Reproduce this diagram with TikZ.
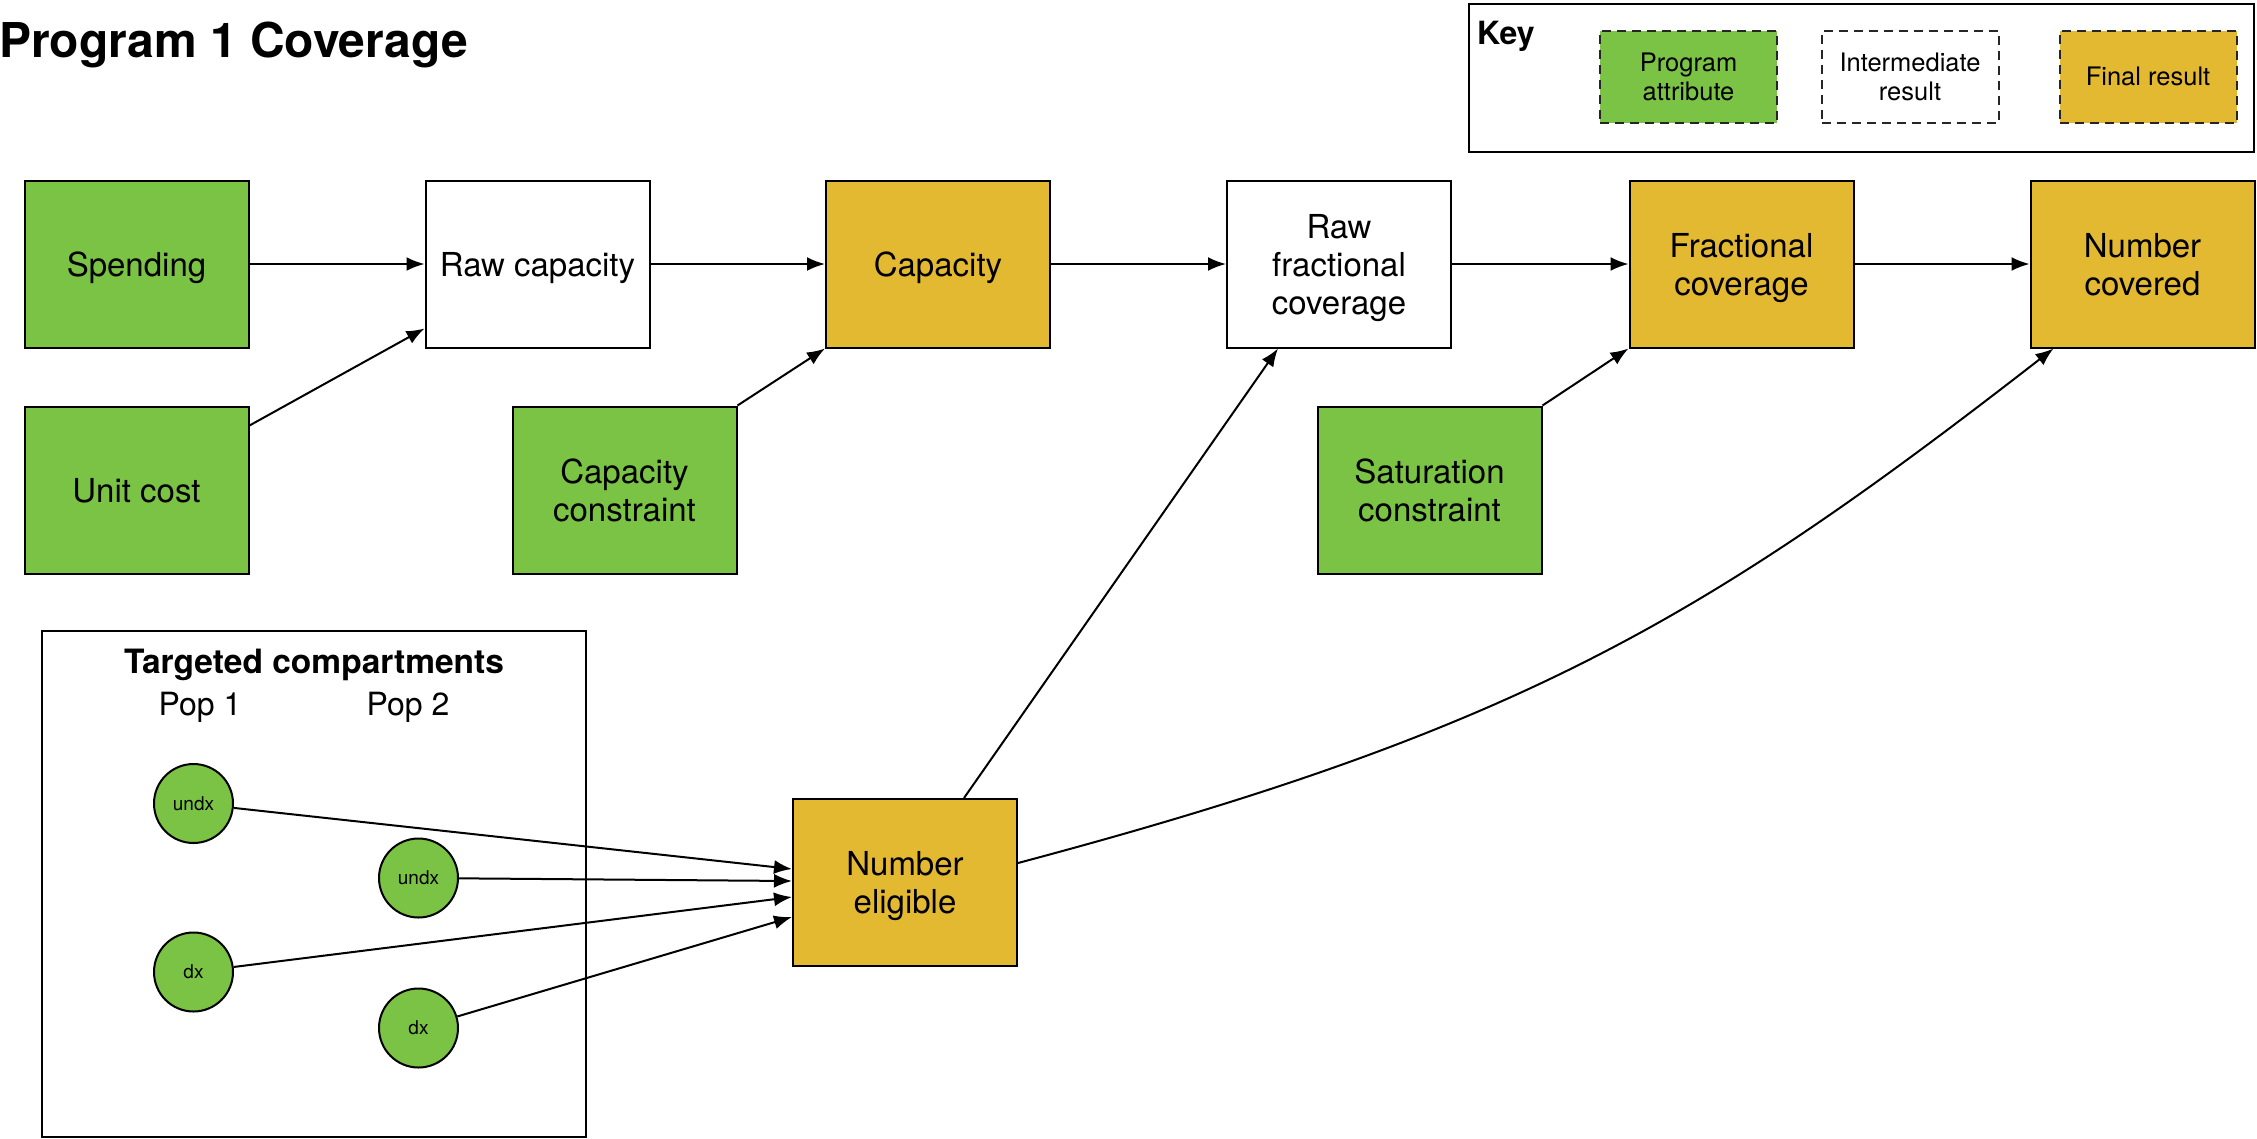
\documentclass[tikz,border=0pt]{standalone}
\usepackage{fontspec}
\setmainfont{TeX Gyre Heros}
\usetikzlibrary{arrows.meta,calc}
\definecolor{attrgreen}{RGB}{122,195,68}
\definecolor{finalgold}{RGB}{228,185,50}
\begin{document}
\begin{tikzpicture}[x=1pt,y=-1pt,
  box/.style={draw=black, line width=2pt, minimum width=224pt, minimum height=167pt, inner sep=0pt, align=center, text depth=-4pt, font=\fontsize{33}{38}\selectfont},
  attr/.style={box, fill=attrgreen},
  inter/.style={box, fill=white},
  final/.style={box, fill=finalgold},
  keybox/.style={draw=black!85, line width=2pt, dash pattern=on 9pt off 6pt, minimum width=177pt, minimum height=92pt, inner sep=0pt, align=center, font=\fontsize{25.5}{29}\selectfont},
  frame/.style={draw=black, line width=2pt, inner sep=0pt},
  comp/.style={circle, draw=black, line width=2pt, fill=attrgreen, minimum size=79pt, inner sep=0pt, font=\fontsize{19}{22}\selectfont},
  arr/.style={line width=2pt, -{Latex[length=18pt,width=14pt]}},
  label/.style={inner sep=0pt, anchor=base},
]
\useasboundingbox (0,0) rectangle (2257,1138);

% title
\node[inner sep=0pt, anchor=base west, font=\fontsize{48}{56}\selectfont\bfseries] (title) at (-1,57) {Program 1 Coverage};

% key
\node[frame, minimum width=785pt, minimum height=148pt] (key) at (1861,77.5) {};
\node[inner sep=0pt, anchor=base west, font=\fontsize{32}{36}\selectfont\bfseries] (keylbl) at (1477,44) {Key};
\node[keybox, fill=attrgreen] (kattr) at (1688.5,76.5) {Program\\attribute};
\node[keybox, fill=white] (kinter) at (1910,76.5) {Intermediate\\result};
\node[keybox, fill=finalgold] (kfinal) at (2148,76.5) {Final result};

% row 1
\node[attr] (spend) at (136.5,264) {Spending};
\node[inter] (rawcap) at (537.5,264) {Raw capacity};
\node[final] (cap) at (938,264) {Capacity};
\node[inter] (rawfrac) at (1339,264) {Raw\\fractional\\coverage};
\node[final] (fraccov) at (1741.5,264) {Fractional\\coverage};
\node[final] (numcov) at (2142.5,264) {Number\\covered};

% row 2
\node[attr] (unitcost) at (136.5,490) {Unit cost};
\node[attr] (capcon) at (624.5,490) {Capacity\\constraint};
\node[attr] (satcon) at (1429.5,490) {Saturation\\constraint};

% targeted compartments
\node[frame, minimum width=544pt, minimum height=506pt] (target) at (314,883.5) {};
\node[label, font=\fontsize{33.5}{38}\selectfont\bfseries] (tlbl) at (314,673) {Targeted compartments};
\node[label, font=\fontsize{32}{38}\selectfont] (pop1) at (200,715) {Pop 1};
\node[label, font=\fontsize{32}{38}\selectfont] (pop2) at (408,715) {Pop 2};
\node[comp] (undx1) at (193.5,803.5) {undx};
\node[comp] (undx2) at (418.5,878) {undx};
\node[comp] (dx1) at (193.5,972) {dx};
\node[comp] (dx2) at (418.5,1028) {dx};

\node[final] (numelig) at (905,882.5) {Number\\eligible};

% connectors
\draw[arr] (spend) -- (rawcap);
\draw[arr] ($(unitcost.north east)+(0,20)$) -- ($(rawcap.south west)+(0,-20)$);
\draw[arr] (rawcap) -- (cap);
\draw[arr] (capcon.north east) -- (cap.south west);
\draw[arr] (cap) -- (rawfrac);
\draw[arr] (rawfrac) -- (fraccov);
\draw[arr] (satcon.north east) -- (fraccov.south west);
\draw[arr] (fraccov) -- (numcov);
\draw[arr] ($(numelig.north)+(59,0)$) -- ($(rawfrac.south west)+(52,0)$);
\draw[arr] ($(numelig.east)+(0,-19.5)$) .. controls (1518,730) and (1704,620) .. ($(numcov.south west)+(24,0)$);

\draw[arr] (undx1) -- ($(numelig.west)+(0,-13.5)$);
\draw[arr] (undx2) -- ($(numelig.west)+(0,-1.5)$);
\draw[arr] (dx1) -- ($(numelig.west)+(0,14.5)$);
\draw[arr] (dx2) -- ($(numelig.west)+(0,34.5)$);
\end{tikzpicture}
\end{document}
